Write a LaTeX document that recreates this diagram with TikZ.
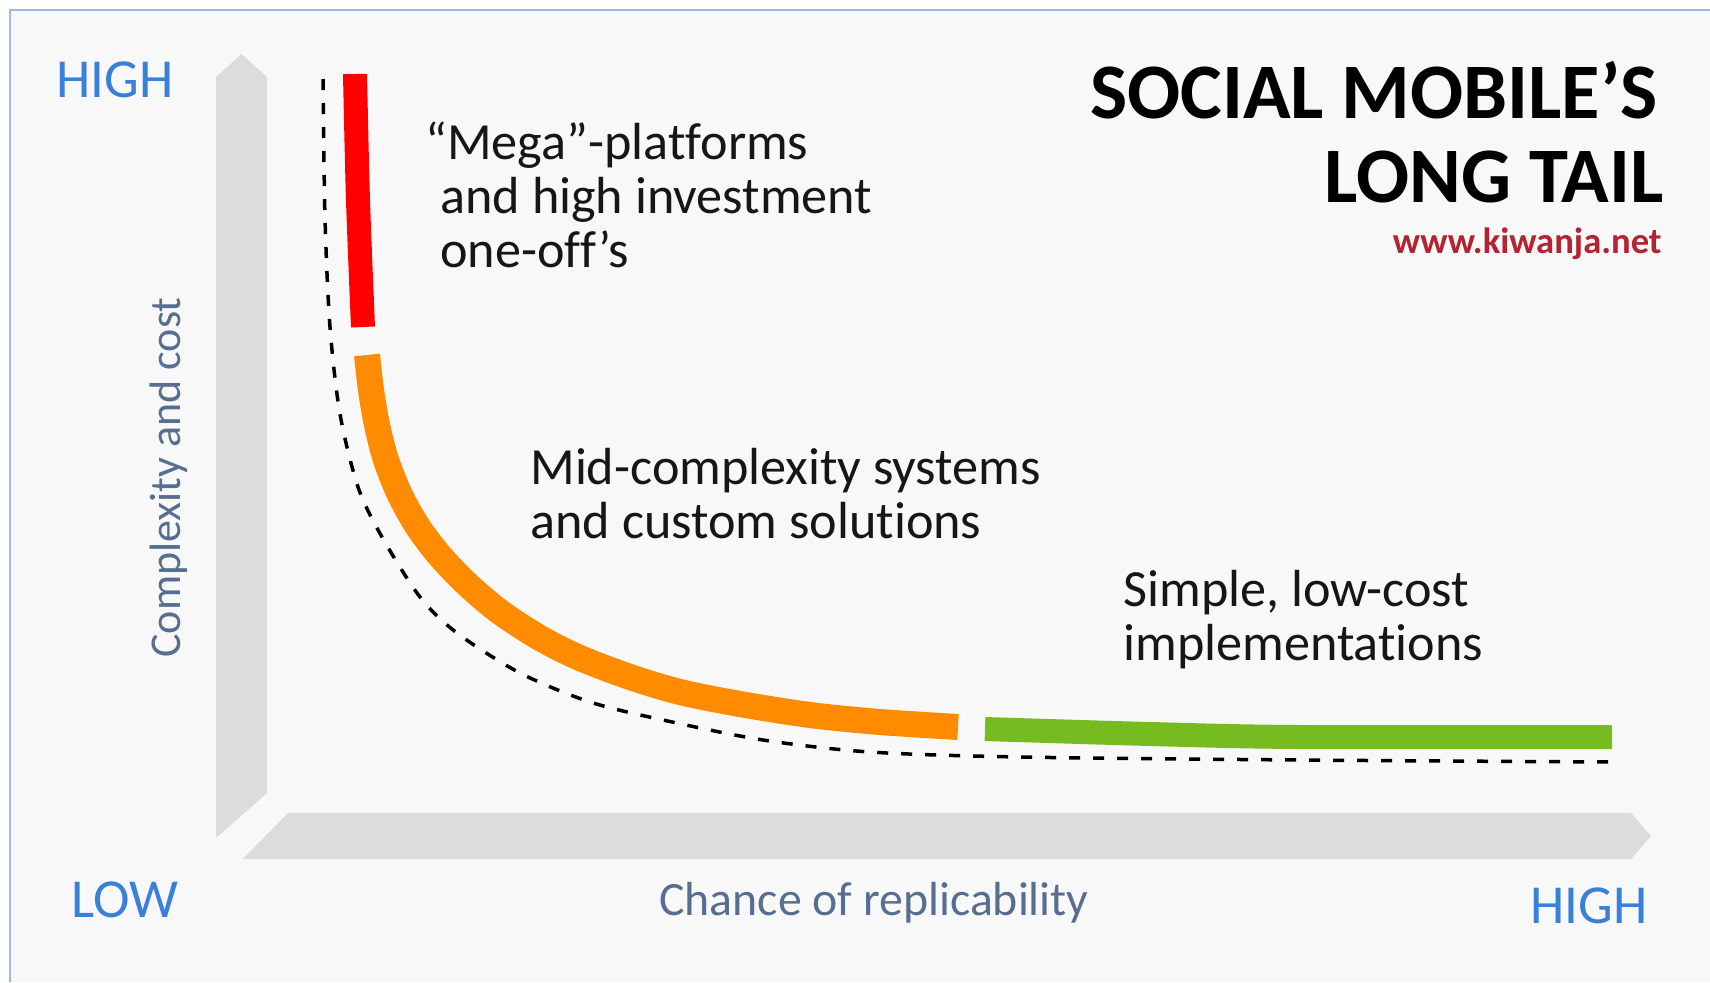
\documentclass[tikz,border=0pt]{standalone}
\usepackage{fontspec}
\setmainfont{Carlito}[Ligatures=NoCommon]
\definecolor{paper}{RGB}{248,248,248}
\definecolor{frameblue}{RGB}{157,185,221}
\definecolor{axisfill}{RGB}{220,220,220}
\definecolor{endblue}{RGB}{58,128,216}
\definecolor{axisgray}{RGB}{88,110,145}
\definecolor{bodyblack}{RGB}{22,22,22}
\definecolor{urlred}{RGB}{178,36,50}
\definecolor{megared}{RGB}{255,0,0}
\definecolor{midorange}{RGB}{255,140,0}
\definecolor{simplegreen}{RGB}{118,188,33}
\begin{document}
\begin{tikzpicture}[x=0.5pt,y=-0.5pt,
  txt/.style={inner sep=0pt,anchor=base west,text=bodyblack,font=\fontsize{26.1}{27}\selectfont},
  ends/.style={inner sep=0pt,text=endblue,font=\fontsize{27.5}{30}\selectfont},
  axislab/.style={inner sep=0pt,anchor=base west,text=axisgray,font=\fontsize{23.9}{25}\selectfont},
  heading/.style={inner sep=0pt,anchor=base east,font=\bfseries\fontsize{39.3}{42}\selectfont},
  band/.style={line width=12pt,line cap=butt},
  tailcurve/.style={draw=black,line width=1.75pt,dash pattern=on 5.5pt off 6.5pt}]
  \useasboundingbox (0,0) rectangle (1710,982);
  \fill[white] (0,0) rectangle (1710,982);
  \fill[paper] (10,10) rectangle (1710,982);
  \draw[frameblue,line width=1.25pt] (10,982) -- (10,10) -- (1710,10);

  % axes
  \fill[axisfill] (216,838) -- (216,77) -- (241.5,54) -- (267,77) -- (267,793) -- cycle;
  \fill[axisfill] (243,859) -- (288,813) -- (1631,813) -- (1651,836) -- (1631,859) -- cycle;

  % long tail
  \draw[tailcurve] plot[smooth] coordinates {(323,79) (325,218) (330,327) (340,414) (358,487) (382,537) (420,597) (457,633) (520,673) (590,702) (663,720) (763,740) (870,752) (1020,757) (1300,760) (1613,762)};
  \draw[band,megared] plot[smooth] coordinates {(355,74) (358,200) (363,327)};
  \draw[band,midorange,line width=13pt] plot[smooth] coordinates {(367,355) (371,390) (377,425) (386,460) (400,495) (418,527) (440,556) (468,585) (500,612) (540,638) (580,658) (630,677) (680,692) (740,704) (810,715) (880,722) (958,727)};
  \draw[band,simplegreen] plot[smooth] coordinates {(985,729) (1150,734) (1300,737) (1612,737)};

  % labels
  \node[ends,anchor=base west] (yhigh) at (56,97) {HIGH};
  \node[ends,anchor=base west] (xlow) at (71,917) {LOW};
  \node[ends,anchor=base east] (xhigh) at (1648,923) {HIGH};
  \node[axislab] (xlab) at (659,915) {Chance of replicability};
  \node[axislab,rotate=90,font=\fontsize{22}{24}\selectfont] (ylab) at (180,658) {Complexity and cost};

  \node[heading] (title1) at (1658,118) {SOCIAL MOBILE’S};
  \node[heading] (title2) at (1664,202) {LONG TAIL};
  \node[inner sep=0pt,anchor=base east,text=urlred,font=\bfseries\fontsize{18.3}{20}\selectfont] (url) at (1662,253) {www.kiwanja.net};

  \node[txt] (mega1) at (425,159) {“Mega”-platforms};
  \node[txt] (mega2) at (440,213) {and high investment};
  \node[txt] (mega3) at (440,267) {one-off’s};
  \node[txt] (mid1) at (530,484) {Mid-complexity systems};
  \node[txt] (mid2) at (530,538) {and custom solutions};
  \node[txt] (simple1) at (1123,606) {Simple, low-cost};
  \node[txt] (simple2) at (1123,660) {implementations};
\end{tikzpicture}
\end{document}
